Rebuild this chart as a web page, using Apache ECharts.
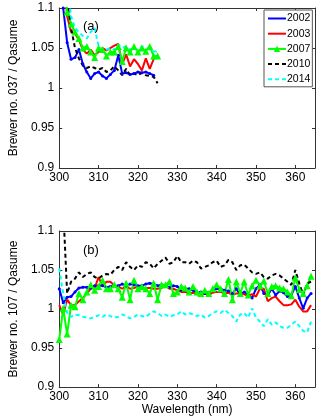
<!DOCTYPE html>
<html>
<head>
<meta charset="utf-8">
<script src="https://cdn.jsdelivr.net/npm/echarts@6/dist/echarts.min.js"></script>
<style>
  html, body { margin: 0; padding: 0; background: #fff; }
  #chart { width: 320px; height: 417px; }
</style>
</head>
<body>
<div id="chart"></div>
<script>
// wavelengths (nm)
var wlA = [300,301,302,303,304,305,306,307,308,309,310,311,312,313,314,315,316,317,318,319,320,321,322,323,324,325];
var wlB = [300,301,302,303,304,305,306,307,308,309,310,311,312,313,314,315,316,317,318,319,
  320,321,322,323,324,325,326,327,328,329,330,331,332,333,334,335,336,337,338,339,
  340,341,342,343,344,345,346,347,348,349,350,351,352,353,354,355,356,357,358,359,
  360,361,362,363,364];

var years = ["2002", "2003", "2007", "2010", "2014"];

// panel (a): Brewer 037 / Qasume
var a2002 = [1.25,1.1,1.057,1.036,1.038,1.048,1.03,1.02,1.012,1.018,1.02,1.015,1.012,1.017,1.022,1.041,1.018,1.019,1.017,1.018,1.02,1.019,1.02,1.018,1.016,null];
var a2003 = [1.25,1.15,1.09,1.07,1.068,1.06,1.048,1.043,1.048,1.041,1.045,1.05,1.047,1.05,1.053,1.055,1.03,1.042,1.027,1.036,1.03,1.022,1.037,1.024,1.036,null];
var a2007 = [1.25,1.15,1.095,1.08,1.07,1.062,1.05,1.052,1.045,1.038,1.05,1.048,1.04,1.045,1.045,1.052,1.033,1.05,1.045,1.052,1.045,1.05,1.046,1.052,1.04,1.04];
var a2010 = [1.3,1.2,1.11,1.075,1.05,1.037,1.028,1.025,1.027,1.025,1.023,1.025,1.02,1.022,1.027,1.022,1.016,1.024,1.016,1.018,1.016,1.019,1.016,1.015,1.014,1.006];
var a2014 = [1.3,1.2,1.13,1.09,1.075,1.07,1.065,1.062,1.07,1.075,1.052,1.047,1.048,1.05,1.048,1.054,1.05,1.052,1.048,1.05,1.047,1.052,1.05,1.048,1.046,1.045];

// panel (b): Brewer 107 / Qasume
var b2002 = [1.026,1.008,1.015,1.016,1.022,1.027,1.028,1.028,1.027,1.030,1.030,1.030,1.028,1.029,1.030,1.030,1.032,1.030,1.032,1.031,
  1.030,1.030,1.032,1.033,1.032,1.030,1.031,1.030,1.028,1.030,1.029,1.024,1.026,1.026,1.024,1.02,1.022,1.02,1.021,1.024,
  1.026,1.026,1.024,1.023,1.02,1.026,1.018,1.022,1.018,1.014,1.026,1.031,1.02,1.018,1.026,1.018,1.023,1.021,1.016,1.018,
  1.029,1.014,1.001,1.014,1.02];
var b2003 = [1.005,0.993,1.012,1.005,1.005,1.01,1.014,1.02,1.026,1.027,1.041,1.029,1.035,1.035,1.03,1.029,1.026,1.029,1.026,1.027,
  1.029,1.026,1.027,1.027,1.026,1.026,1.027,1.03,1.026,1.026,1.024,1.022,1.022,1.02,1.021,1.019,1.019,1.02,1.018,1.021,
  1.022,1.022,1.02,1.021,1.018,1.02,1.02,1.019,1.017,1.019,1.016,1.026,1.026,1.01,1.014,1.016,1.01,1.005,1.005,1.006,
  1.012,1.003,0.997,0.997,1.005];
var b2007 = [0.961,1.001,0.968,1.005,1.003,1.02,1.012,1.022,1.031,1.024,1.029,1.037,1.026,1.026,1.031,1.026,1.015,1.033,1.012,1.037,
  1.026,1.029,1.026,1.02,1.033,1.012,1.031,1.031,1.035,1.02,1.022,1.029,1.027,1.022,1.029,1.022,1.02,1.024,1.02,1.026,
  1.031,1.026,1.02,1.038,1.012,1.035,1.02,1.035,1.018,1.03,1.037,1.03,1.036,1.02,1.029,1.03,1.027,1.026,1.022,1.017,
  1.04,1.025,1.02,1.03,1.042];
var b2010 = [1.25,1.13,1.02,1.035,1.039,1.047,1.041,1.045,1.047,1.041,1.039,1.043,1.045,1.044,1.05,1.054,1.05,1.06,1.054,1.05,
  1.056,1.054,1.06,1.058,1.052,1.058,1.062,1.066,1.058,1.06,1.068,1.06,1.06,1.058,1.062,1.06,1.052,1.054,1.056,1.06,
  1.062,1.054,1.056,1.063,1.06,1.05,1.056,1.057,1.052,1.047,1.045,1.047,1.041,1.039,1.043,1.045,1.043,1.039,1.035,1.031,
  1.05,1.033,1.018,1.033,1.035];
var b2014 = [1.052,1.02,0.995,0.99,0.993,0.992,0.99,0.989,0.988,0.99,0.992,0.99,0.993,0.991,0.989,0.99,0.993,0.991,0.988,0.99,
  0.993,0.991,0.99,0.994,0.997,0.995,0.991,0.993,0.99,0.992,0.993,0.997,0.993,0.995,0.993,0.991,0.993,0.989,0.991,0.995,
  0.997,0.995,0.999,0.995,0.991,0.984,0.993,0.995,0.989,1.001,0.989,0.984,0.978,0.987,0.98,0.983,0.978,0.976,0.976,0.98,
  0.984,0.978,0.972,0.970,0.984];

var xTicks = [300, 365, 10];   // min, max, interval
var yTicks = [0.9, 1.1, 0.05];

var FONT = "'Liberation Sans', Arial, sans-serif";
var AXIS_COLOR = "#333";

// matlab-ish line styles per year
var styles = {
  "2002": { color: "#0000ff", type: "solid", symbol: "circle", symbolSize: 3 },
  "2003": { color: "#ff0000", type: "solid", symbol: "none", symbolSize: 0 },
  "2007": { color: "#00ff00", type: "solid", symbol: "triangle", symbolSize: 7 },
  "2010": { color: "#000000", type: [4, 3], symbol: "none", symbolSize: 0 },
  "2014": { color: "#00ffff", type: [4, 3], symbol: "none", symbolSize: 0 }
};

function pairs(xs, ys) {
  return xs.map(function (x, i) { return [x, ys[i]]; });
}

function makeSeries(name, xs, ys, axisIdx) {
  var s = styles[name];
  return {
    name: name,
    type: "line",
    xAxisIndex: axisIdx,
    yAxisIndex: axisIdx,
    data: pairs(xs, ys),
    symbol: s.symbol,
    symbolSize: s.symbolSize,
    showSymbol: s.symbol !== "none",
    connectNulls: false,
    clip: true,
    animation: false,
    lineStyle: { color: s.color, width: 2, type: s.type },
    itemStyle: { color: s.color }
  };
}

function xAxes(gridIdx, withName) {
  return [{
    type: "value", gridIndex: gridIdx, position: "bottom",
    min: xTicks[0], max: xTicks[1], interval: xTicks[2],
    splitLine: { show: false },
    axisLine: { lineStyle: { color: AXIS_COLOR } },
    axisTick: { inside: true, length: 3, lineStyle: { color: AXIS_COLOR } },
    axisLabel: { color: "#000", fontFamily: FONT, fontSize: 12, margin: 4,
      formatter: function (v) { return v === 365 ? "" : v; } },
    name: withName ? "Wavelength (nm)" : "",
    nameLocation: "middle", nameGap: 15,
    nameTextStyle: { color: "#000", fontFamily: FONT, fontSize: 12 }
  }, {
    type: "value", gridIndex: gridIdx, position: "top",
    min: xTicks[0], max: xTicks[1], interval: xTicks[2],
    splitLine: { show: false },
    axisLine: { lineStyle: { color: AXIS_COLOR } },
    axisTick: { inside: true, length: 3, lineStyle: { color: AXIS_COLOR } },
    axisLabel: { show: false }
  }];
}

function yAxes(gridIdx, name) {
  return [{
    type: "value", gridIndex: gridIdx, position: "left",
    min: yTicks[0], max: yTicks[1], interval: yTicks[2],
    splitLine: { show: false },
    axisLine: { show: true, lineStyle: { color: AXIS_COLOR } },
    axisTick: { show: true, inside: true, length: 3, lineStyle: { color: AXIS_COLOR } },
    axisLabel: { color: "#000", fontFamily: FONT, fontSize: 12, margin: 5,
      formatter: function (v) { return +v.toFixed(2); } },
    name: name, nameLocation: "middle", nameGap: 26,
    nameTextStyle: { color: "#000", fontFamily: FONT, fontSize: 12 }
  }, {
    type: "value", gridIndex: gridIdx, position: "right",
    min: yTicks[0], max: yTicks[1], interval: yTicks[2],
    splitLine: { show: false },
    axisLine: { show: true, lineStyle: { color: AXIS_COLOR } },
    axisTick: { show: true, inside: true, length: 3, lineStyle: { color: AXIS_COLOR } },
    axisLabel: { show: false }
  }];
}

var chart = echarts.init(document.getElementById("chart"), null, { renderer: "canvas" });

var xa = xAxes(0, false).concat(xAxes(1, true));
var ya = yAxes(0, "Brewer no. 037 / Qasume").concat(yAxes(1, "Brewer no. 107 / Qasume"));

var seriesA = [a2002, a2003, a2007, a2010, a2014];
var seriesB = [b2002, b2003, b2007, b2010, b2014];
var series = [];
years.forEach(function (y, i) { series.push(makeSeries(y, wlA, seriesA[i], 0)); });
years.forEach(function (y, i) { series.push(makeSeries(y, wlB, seriesB[i], 2)); });

// legend entries: only the triangle keeps its marker in the key
var legendData = years.map(function (y) {
  return y === "2007" ? { name: y } : { name: y, itemStyle: { opacity: 0 } };
});

chart.setOption({
  backgroundColor: "#fff",
  textStyle: { fontFamily: FONT },
  title: [
    { text: "(a)", left: 78, top: 15, textStyle: { fontSize: 13, fontWeight: "normal", color: "#000", fontFamily: FONT } },
    { text: "(b)", left: 78, top: 239, textStyle: { fontSize: 13, fontWeight: "normal", color: "#000", fontFamily: FONT } }
  ],
  legend: {
    data: legendData,
    orient: "vertical",
    left: 264, top: 10,
    itemWidth: 18, itemHeight: 8, itemGap: 4.2,
    padding: [3, 2, 2, 3],
    borderColor: "#555", borderWidth: 1,
    backgroundColor: "#fff",
    textStyle: { fontFamily: FONT, fontSize: 10.5, color: "#000", padding: [0, 0, 0, -4] }
  },
  grid: [
    { left: 38, top: 8, width: 277, height: 160 },
    { left: 38, top: 231, width: 277, height: 161 }
  ],
  xAxis: xa,
  yAxis: ya,
  series: series
});
</script>
</body>
</html>
